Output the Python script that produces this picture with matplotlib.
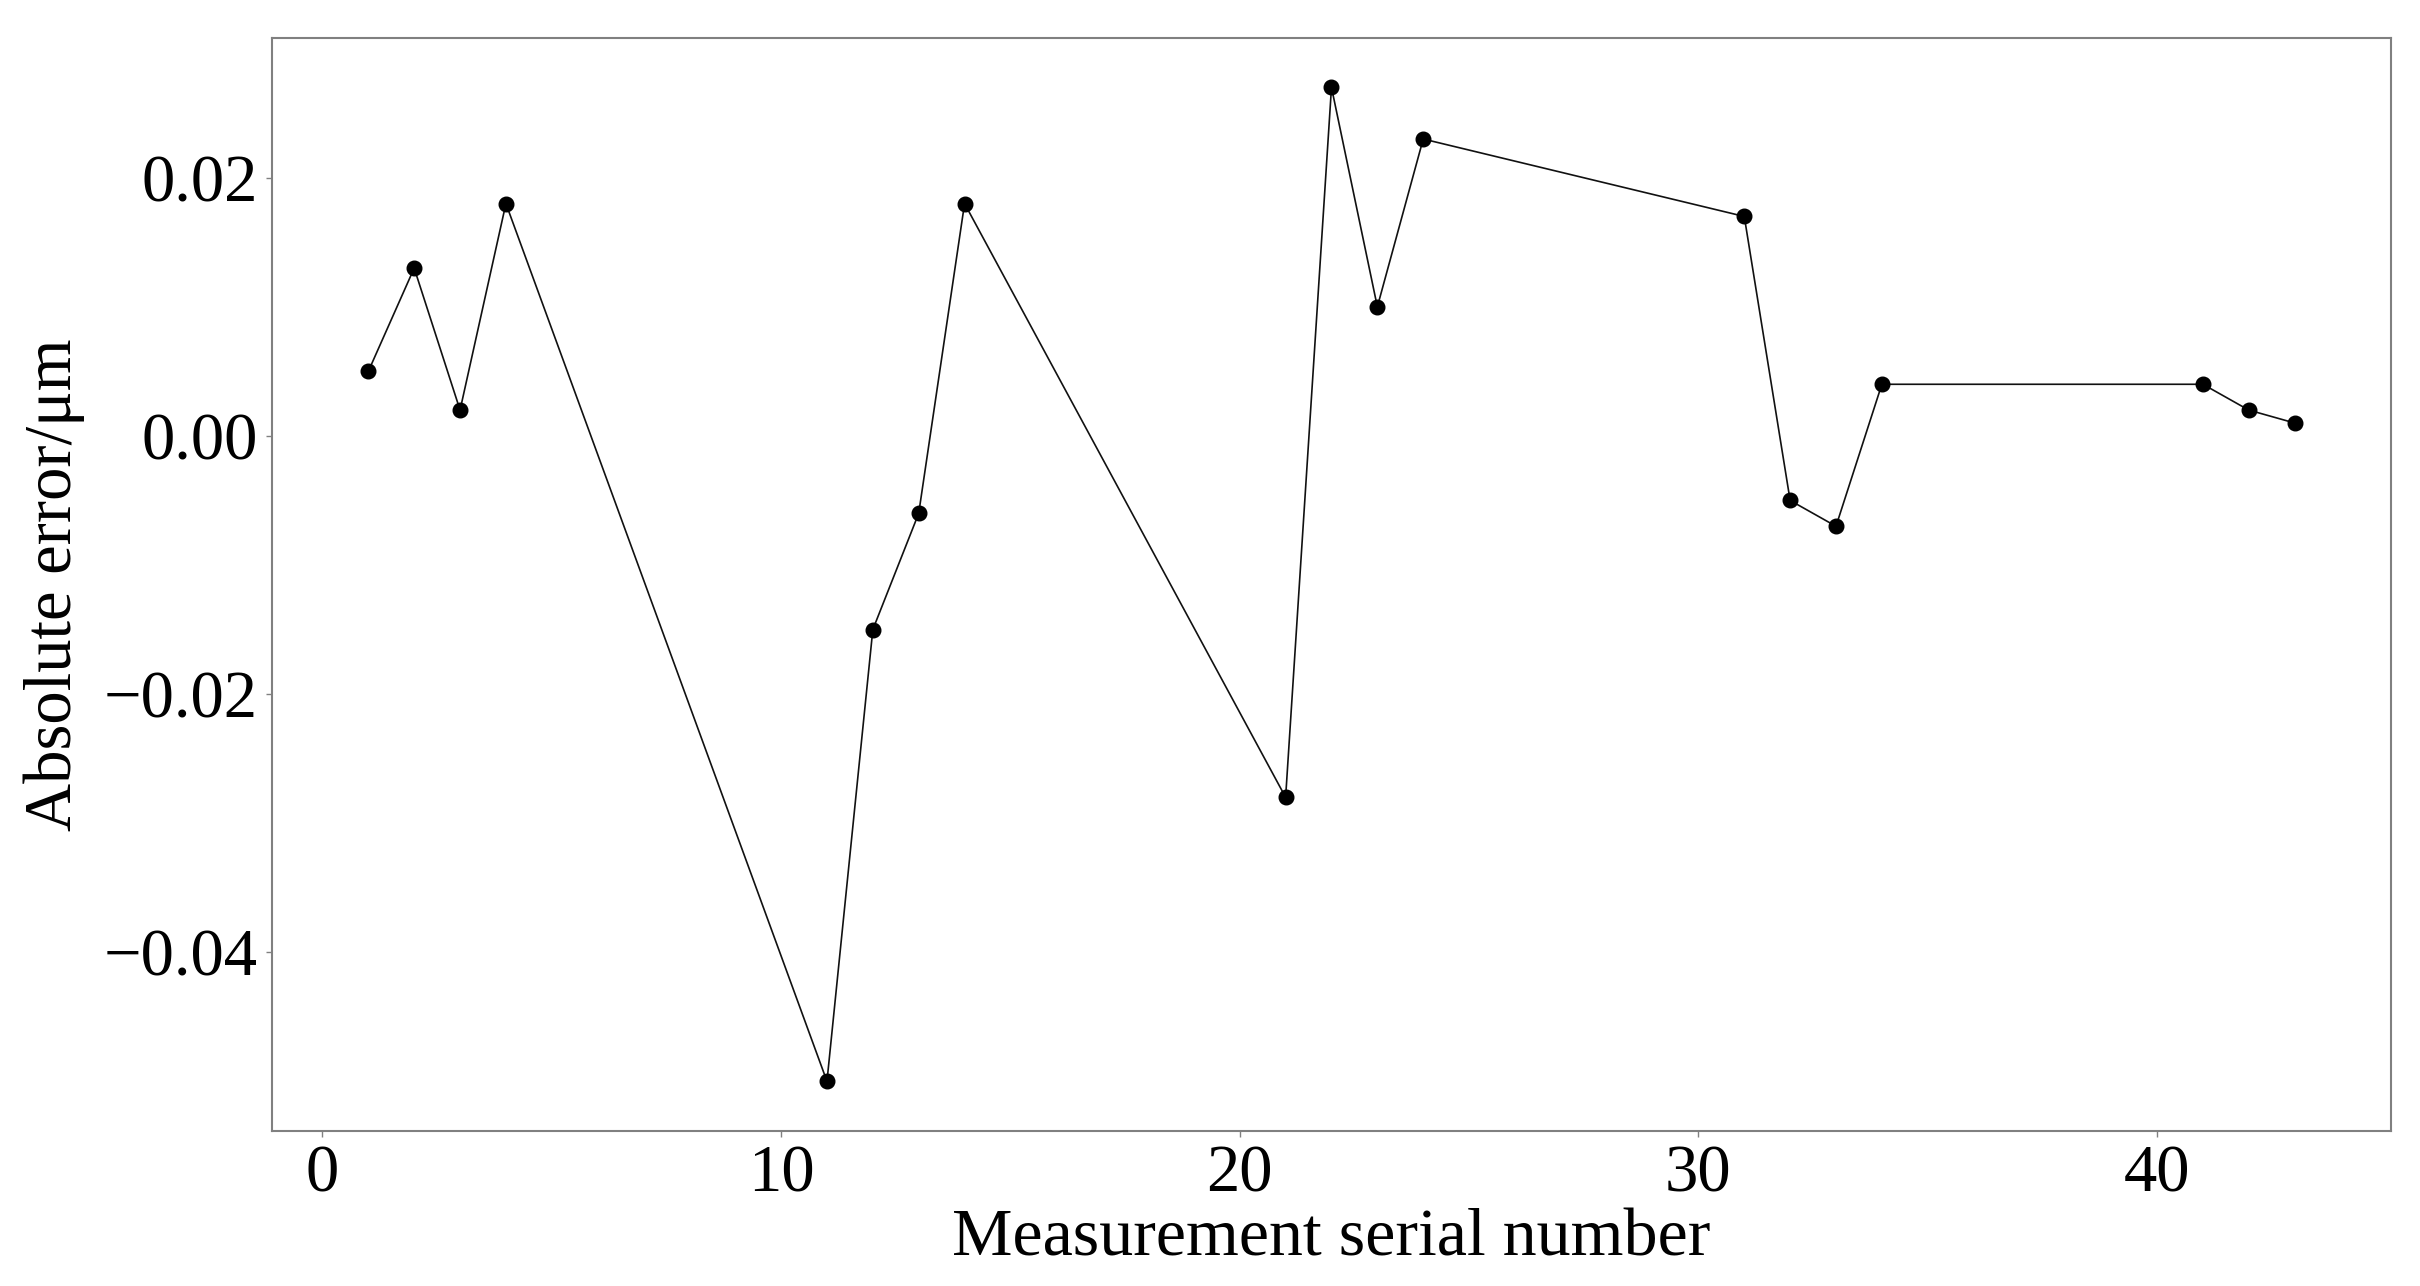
import numpy as np
import matplotlib.pyplot as plt

plt.rcParams['font.family'] = ['Liberation Serif', 'DejaVu Serif']

serial = [1, 2, 3, 4, 11, 12, 13, 14, 21, 22, 23, 24, 31, 32, 33, 34, 41, 42, 43]
abs_error = [0.005, 0.013, 0.002, 0.018, -0.050, -0.015, -0.006, 0.018,
             -0.028, 0.027, 0.010, 0.023, 0.017, -0.005, -0.007, 0.004,
             0.004, 0.002, 0.001]

fig = plt.figure(figsize=(24.2, 12.86), dpi=100)
ax = fig.add_axes([0.1124, 0.1205, 0.8756, 0.8502])

ax.plot(serial, abs_error, color='#111111', linewidth=1.2,
        marker='o', markersize=10.5, markerfacecolor='black',
        markeredgecolor='black')

ax.set_xticks([0, 10, 20, 30, 40])
ax.set_yticks([-0.04, -0.02, 0.00, 0.02])
ax.set_xlabel('Measurement serial number', fontsize=49, labelpad=2)
ax.set_ylabel('Absolute error/\u03bcm', fontsize=48, labelpad=14)

for side in ax.spines.values():
    side.set_color('#808080')
    side.set_linewidth(1.5)
ax.tick_params(axis='both', labelsize=48, length=4, width=1,
               color='#808080', pad=6)

fig.savefig('out.png', dpi=100)
